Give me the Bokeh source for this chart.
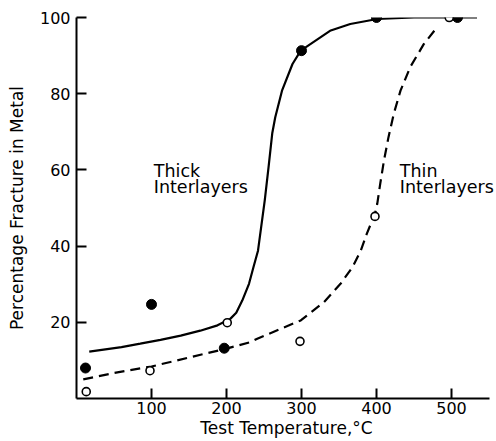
from bokeh.plotting import figure
from bokeh.models import Range1d, FixedTicker, Label
from bokeh.embed import file_html
from bokeh.resources import INLINE

# --- data ---
thick_x = [12, 100, 197, 300, 400, 508]
thick_y = [8, 24.7, 13.2, 91.3, 100, 100]
thin_x = [13, 98, 201, 298, 398, 497]
thin_y = [1.8, 7.3, 19.9, 15, 47.8, 100]

thick_curve_x = [17, 60, 85, 112, 139, 165, 188, 205, 213, 221, 230, 236, 242, 245, 248, 251,
                 256, 261, 265, 274, 288, 299, 339, 365, 401, 450, 534]
thick_curve_y = [12.3, 13.5, 14.4, 15.4, 16.5, 17.8, 19.2, 20.9, 22.5, 25.7, 30.1, 34.5, 38.8, 43.2, 47.6, 52,
                 60.6, 69.6, 73.8, 80.8, 87.8, 91.3, 96.6, 98.3, 99.6, 100, 100]

thin_curve_x = [9, 50, 100, 200, 232, 241, 299, 330, 352, 368, 379, 387, 398, 401,
                405, 410, 416, 423, 432, 445, 463, 481]
thin_curve_y = [5, 6.7, 8.4, 13.1, 14.8, 15.7, 20.5, 25.3, 30.1, 34.5, 38.8, 43.2, 48.5, 51.1,
                56.4, 62.5, 68.6, 74.7, 80.8, 87, 93, 97.5]

x_ticks = [100, 200, 300, 400, 500]
y_ticks = [20, 40, 60, 80, 100]

FONT = "DejaVu Sans"

p = figure(width=496, height=441, output_backend="svg", toolbar_location=None,
           x_range=Range1d(0, 560), y_range=Range1d(0, 100),
           min_border_left=76, min_border_right=0, min_border_top=17, min_border_bottom=43)
p.grid.visible = False
p.outline_line_color = None
p.background_fill_color = "white"
p.border_fill_color = "white"

for ax in (p.xaxis[0], p.yaxis[0]):
    ax.axis_line_width = 2
    ax.axis_line_color = "black"
    ax.major_tick_in = 10
    ax.major_tick_out = 0
    ax.major_tick_line_width = 2
    ax.minor_tick_line_color = None
    ax.major_label_text_font = FONT
    ax.major_label_text_font_size = "16px"
    ax.major_label_text_color = "black"
    ax.axis_label_text_font = FONT
    ax.axis_label_text_font_size = "17px"
    ax.axis_label_text_font_style = "normal"
    ax.axis_label_text_color = "black"

p.xaxis.bounds = (0, 550)
p.xaxis.ticker = FixedTicker(ticks=x_ticks)
p.yaxis.ticker = FixedTicker(ticks=y_ticks)
p.xaxis.axis_label = "Test Temperature,°C"
p.yaxis.axis_label = "Percentage Fracture in Metal"
p.xaxis.major_label_standoff = 3
p.xaxis.axis_label_standoff = 1
p.yaxis.major_label_standoff = 6
p.yaxis.axis_label_standoff = 10

p.line(thick_curve_x, thick_curve_y, line_color="black", line_width=2.2)
p.line(thin_curve_x, thin_curve_y, line_color="black", line_width=2.2, line_dash="10 6")

p.scatter(thick_x, thick_y, size=10, fill_color="black", line_color="black")
p.scatter(thin_x, thin_y, size=8, fill_color="white", line_color="black", line_width=1.6)

for lx, ly, txt in [(103, 59.8, "Thick"), (103, 55.4, "Interlayers"),
                    (431, 59.8, "Thin"), (431, 55.4, "Interlayers")]:
    p.add_layout(Label(x=lx, y=ly, text=txt, text_font=FONT, text_font_size="17.5px",
                       text_baseline="alphabetic", text_color="black"))

open("out.html", "w").write(file_html(p, INLINE))
